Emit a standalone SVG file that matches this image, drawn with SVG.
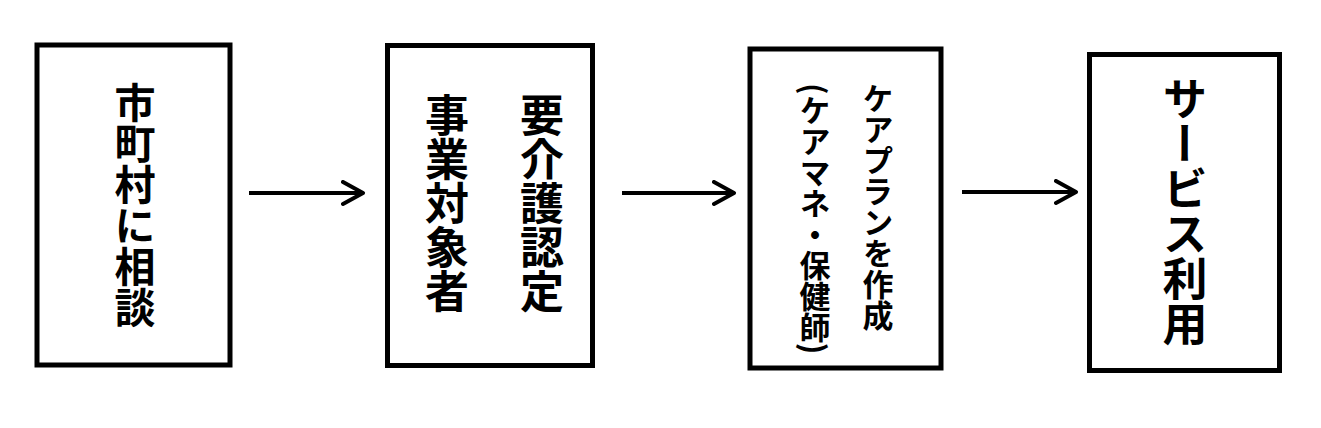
<svg xmlns="http://www.w3.org/2000/svg" width="1321" height="428" viewBox="0 0 1321 428">
<style>
.box{fill:#fff;stroke:#000;stroke-width:5}
.t{font-family:"Noto Sans CJK JP","Noto Sans CJK SC",sans-serif;font-weight:bold;fill:#000;writing-mode:vertical-rl}
.c{stroke:#000;stroke-width:4;fill:none}
</style>
<defs>
<marker id="ah" markerUnits="userSpaceOnUse" markerWidth="30" markerHeight="30" refX="2" refY="13" orient="auto" viewBox="-20 0 30 30">
<polyline points="-18,2 2,13 -18,24" fill="none" stroke="#000" stroke-width="4" stroke-linecap="round" stroke-linejoin="round"/>
</marker>
</defs>
<rect width="1321" height="428" fill="#fff"/>
<g id="n1">
<rect class="box" x="37" y="45" width="193" height="320"/>
<text class="t" x="135" y="82" font-size="41">市町村に相談</text>
</g>
<g id="n2">
<rect class="box" x="387.5" y="45.5" width="205" height="320"/>
<text class="t" x="542" y="93" font-size="44">要介護認定</text>
<text class="t" x="447" y="93" font-size="44">事業対象者</text>
</g>
<g id="n3">
<rect class="box" x="750" y="49" width="191" height="319"/>
<text class="t" x="878" y="83" font-size="31" font-weight="normal">ケアプランを作成</text>
<text class="t" x="815" y="83" font-size="31" font-weight="normal">(ケアマネ・保健師)</text>
</g>
<g id="n4">
<rect class="box" x="1089.5" y="54.5" width="190" height="316"/>
<text class="t" x="1185" y="76" font-size="45">サービス利用</text>
</g>
<g id="connectors">
<line class="c" x1="249" y1="193" x2="363" y2="193" marker-end="url(#ah)"/>
<line class="c" x1="622" y1="193" x2="734" y2="193" marker-end="url(#ah)"/>
<line class="c" x1="962" y1="192" x2="1076" y2="192" marker-end="url(#ah)"/>
</g>
</svg>
